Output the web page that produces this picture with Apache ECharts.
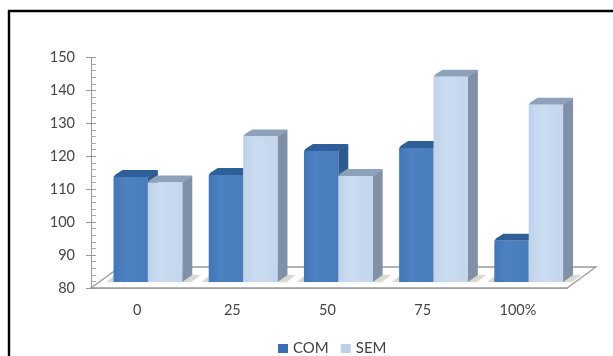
<!DOCTYPE html>
<html>
<head>
<meta charset="utf-8">
<style>html,body{margin:0;padding:0;background:#fff}#chart{width:613px;height:356px}</style>
<script src="https://cdn.jsdelivr.net/npm/echarts@6/dist/echarts.min.js"></script>
</head>
<body>
<div id="chart"></div>
<script>
const categories = ['0', '25', '50', '75', '100%'];
const com = [111.9, 112.5, 119.8, 120.7, 92.5];
const sem = [110.2, 124.2, 112.2, 142.3, 133.8];
const valueMin = 80;
const valueMax = 150;

// Pseudo-3D depth: bars stand part way back on a floor drawn in perspective.
const floorDepth = { x: 29, y: -21 };
const barInset = { x: 9.3, y: -6 };
const barDepth = { x: 10, y: -7 };
const barShare = 0.361;

const palette = {
  COM: { front: ['#4276b7', '#4d81c1', '#487cbb'], top: '#2f5f99', side: '#2e5a8e', legend: '#3a6eb0' },
  SEM: { front: ['#bfd2ea', '#cbdcf1', '#c3d6ed'], top: '#8ea1ba', side: '#8091a7', legend: '#bcd0ea' }
};

function frontFill(colors) {
  return new echarts.graphic.LinearGradient(0, 0, 1, 0, [
    { offset: 0, color: colors[0] },
    { offset: 0.35, color: colors[1] },
    { offset: 1, color: colors[2] }
  ]);
}

// One series draws a cuboid per category; `slot` is -1 for the left bar, 0 for the right.
function cuboid(values, colors, slot) {
  return function (params, api) {
    const i = api.value(0);
    const w = api.size([1, 0])[0] * barShare;
    const base = api.coord([i, valueMin]);
    const top = api.coord([i, values[i]]);
    const x0 = base[0] + barInset.x + slot * w;
    const x1 = x0 + w;
    const yb = base[1] + barInset.y;
    const yt = top[1] + barInset.y;
    const dx = barDepth.x, dy = barDepth.y;
    return {
      type: 'group',
      children: [
        { type: 'polygon', shape: { points: [[x1, yt], [x1 + dx, yt + dy], [x1 + dx, yb + dy], [x1, yb]] },
          style: { fill: colors.side } },
        { type: 'polygon', shape: { points: [[x0, yt], [x0 + 2, yt - 2.5], [x0 + dx - 1, yt + dy], [x1 + dx - 1, yt + dy], [x1 + dx, yt + dy + 1.5], [x1, yt]] },
          style: { fill: colors.top } },
        { type: 'rect', shape: { x: x0, y: yt, width: w, height: yb - yt },
          style: { fill: frontFill(colors.front) } }
      ]
    };
  };
}

const indices = categories.map((c, i) => [i]);

const option = {
  animation: false,
  backgroundColor: '#ffffff',
  textStyle: { fontFamily: 'Lato, "Open Sans", sans-serif' },
  grid: { left: 91, right: 46, top: 57.5, bottom: 68 },
  graphic: [{
    type: 'polyline',
    shape: { points: [[9, 356], [9, 11], [613, 11]] },
    style: { stroke: '#000000', lineWidth: 2.4, fill: null }
  }],
  legend: {
    left: 278, top: 341, padding: 0, itemWidth: 10, itemHeight: 9, itemGap: 12, icon: 'rect',
    data: ['COM', 'SEM'],
    textStyle: { fontSize: 15, color: '#404040' }
  },
  xAxis: {
    type: 'category', data: categories,
    axisLine: { lineStyle: { color: '#b9b9b9', width: 2 } },
    axisTick: { show: false },
    axisLabel: { color: '#454545', fontSize: 14.5, margin: 15, padding: [0, 3, 0, 0] }
  },
  yAxis: [{
    type: 'value', min: valueMin, max: valueMax, interval: 10, position: 'left',
    axisLine: { show: true, lineStyle: { color: '#9a9a9a' } },
    axisTick: { show: true, inside: true, length: 5, lineStyle: { color: '#9a9a9a' } },
    minorTick: { show: true, splitNumber: 5, length: 5, lineStyle: { color: '#a8a8a8' } },
    splitLine: { show: false },
    axisLabel: { color: '#454545', fontSize: 14.5, margin: 16 }
  }, {
    type: 'value', min: valueMin, max: valueMax, interval: 10, position: 'left',
    axisLine: { show: false },
    axisTick: { show: true, length: 5, lineStyle: { color: '#9a9a9a' } },
    splitLine: { show: false },
    axisLabel: { show: false }
  }],
  series: [{
    // perspective floor behind the bars
    name: 'floor', type: 'custom', data: [[0]], silent: true, z: 1,
    renderItem(params) {
      const g = params.coordSys;
      const yf = g.y + g.height;
      return {
        type: 'polygon',
        shape: { points: [[g.x, yf], [g.x + floorDepth.x, yf + floorDepth.y],
          [g.x + g.width + floorDepth.x, yf + floorDepth.y], [g.x + g.width, yf]] },
        style: { fill: '#ffffff', stroke: '#9a9a9a', lineWidth: 1.3 }
      };
    }
  }, {
    // soft contact shadow under each pair of bars
    name: 'shadow', type: 'custom', data: indices, silent: true, z: 2,
    renderItem(params, api) {
      const i = api.value(0);
      const w = api.size([1, 0])[0] * barShare;
      const base = api.coord([i, valueMin]);
      const x0 = base[0] + barInset.x - w;
      const x1 = base[0] + barInset.x + w;
      const y = base[1] + barInset.y;
      return {
        type: 'polygon',
        shape: { points: [[x0 - 7, y], [x0 + 2, y + barDepth.y], [x1 + 18, y + barDepth.y], [x1 + 9, y]] },
        style: { fill: '#d9d9d2', shadowBlur: 2, shadowColor: '#e5e5e0' }
      };
    }
  }, {
    name: 'COM', type: 'custom', data: indices, z: 3,
    itemStyle: { color: palette.COM.legend },
    renderItem: cuboid(com, palette.COM, -1)
  }, {
    name: 'SEM', type: 'custom', data: indices, z: 3,
    itemStyle: { color: palette.SEM.legend },
    renderItem: cuboid(sem, palette.SEM, 0)
  }]
};

echarts.init(document.getElementById('chart'), null, { renderer: 'canvas' }).setOption(option);
</script>
</body>
</html>
